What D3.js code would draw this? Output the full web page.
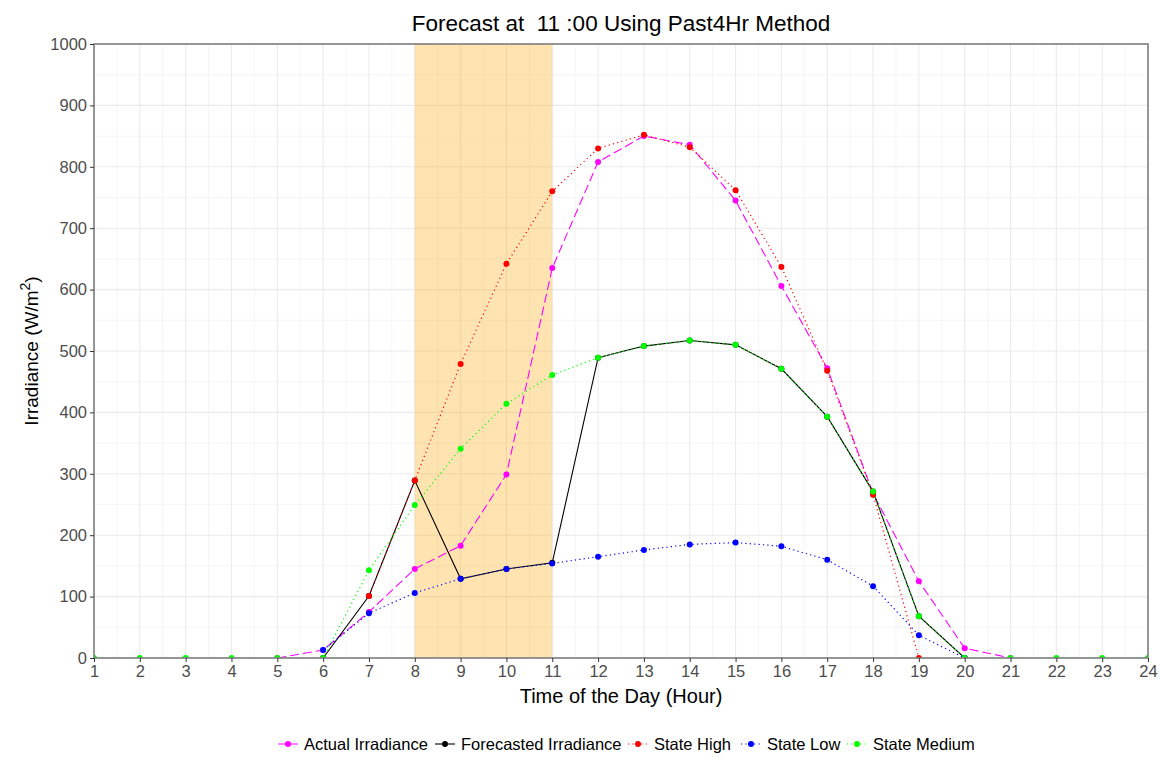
<!DOCTYPE html>
<html>
<head>
<meta charset="utf-8">
<script src="https://cdn.jsdelivr.net/npm/d3@7"></script>
<style>
  html, body { margin: 0; padding: 0; background: #fff; }
  svg { display: block; font-family: "Liberation Sans", Arial, sans-serif; }
</style>
</head>
<body>
<svg id="chart" width="1160" height="761"></svg>
<script>
// ---- Data ----
const hours = d3.range(1, 25);
const actualHours = [5,6,7,8,9,10,11,12,13,14,15,16,17,18,19,20,21];
const actualValues = [0,13,75,145,183,299,635,808,850,836,745,606,472,268,125,16,0];
const forecastHours = [6,7,8,9,10,11,12,13,14,15,16,17,18,19,20];
const forecastValues = [0,101,289,129,145,155,489,508,517,510,471,393,271,68,0];
const highHours = [7,8,9,10,11,12,13,14,15,16,17,18,19];
const highValues = [101,289,479,642,760,830,852,832,762,637,468,266,0];
const lowHours = [6,7,8,9,10,11,12,13,14,15,16,17,18,19,20];
const lowValues = [13,73,106,129,145,154,165,176,185,188,182,160,117,37,0];
const mediumHours = [1,2,3,4,5,6,7,8,9,10,11,12,13,14,15,16,17,18,19,20,21,22,23,24];
const mediumValues = [0,0,0,0,0,0,143,249,341,414,461,489,508,517,510,471,393,271,68,0,0,0,0,0];
const yTicks = [0,100,200,300,400,500,600,700,800,900,1000];
const shadeRange = [8, 11];
const titleText = "Forecast at  11 :00 Using Past4Hr Method";
const xTitle = "Time of the Day (Hour)";
const legendLabels = ["Actual Irradiance", "Forecasted Irradiance", "State High", "State Low", "State Medium"];

// ---- Layout ----
const svg = d3.select("#chart");
const L = 94, R = 1148, T = 44, B = 658;
const x = d3.scaleLinear().domain([1, 24]).range([L, R]);
const y = d3.scaleLinear().domain([0, 1000]).range([B, T]);

const defs = svg.append("defs");
defs.append("clipPath").attr("id", "clip")
  .append("rect").attr("x", L).attr("y", T).attr("width", R - L).attr("height", B - T);

svg.append("rect").attr("x", L).attr("y", T).attr("width", R - L).attr("height", B - T).attr("fill", "#fff");

// minor grid
const g = svg.append("g");
d3.range(1.5, 24, 1).forEach(v => {
  g.append("line").attr("x1", x(v)).attr("x2", x(v)).attr("y1", T).attr("y2", B)
    .attr("stroke", "#F2F2F2").attr("stroke-width", 0.8);
});
d3.range(50, 1000, 100).forEach(v => {
  g.append("line").attr("x1", L).attr("x2", R).attr("y1", y(v)).attr("y2", y(v))
    .attr("stroke", "#F2F2F2").attr("stroke-width", 0.8);
});
// major grid
hours.forEach(v => {
  g.append("line").attr("x1", x(v)).attr("x2", x(v)).attr("y1", T).attr("y2", B)
    .attr("stroke", "#EBEBEB").attr("stroke-width", 1.1);
});
yTicks.forEach(v => {
  g.append("line").attr("x1", L).attr("x2", R).attr("y1", y(v)).attr("y2", y(v))
    .attr("stroke", "#EBEBEB").attr("stroke-width", 1.1);
});

// shaded window
svg.append("rect")
  .attr("x", x(shadeRange[0])).attr("y", T)
  .attr("width", x(shadeRange[1]) - x(shadeRange[0])).attr("height", B - T)
  .attr("fill", "rgb(255,165,0)").attr("fill-opacity", 0.3);

// ---- Series ----
const series = [
  { h: actualHours, v: actualValues, color: "#FF00FF", dash: "9,4", width: 1.1 },
  { h: forecastHours, v: forecastValues, color: "#000000", dash: null, width: 1.1 },
  { h: highHours, v: highValues, color: "#FF0000", dash: "1.2,3.2", width: 1.2 },
  { h: lowHours, v: lowValues, color: "#0000FF", dash: "1.2,3.2", width: 1.2 },
  { h: mediumHours, v: mediumValues, color: "#00FF00", dash: "1.2,3.2", width: 1.2 }
];

const plot = svg.append("g").attr("clip-path", "url(#clip)");
const line = d3.line().x(d => x(d[0])).y(d => y(d[1]));
series.forEach(s => {
  const pts = s.h.map((h, i) => [h, s.v[i]]);
  plot.append("path").datum(pts)
    .attr("d", line).attr("fill", "none")
    .attr("stroke", s.color).attr("stroke-width", s.width)
    .attr("stroke-dasharray", s.dash);
  plot.selectAll(null).data(pts).enter().append("circle")
    .attr("cx", d => x(d[0])).attr("cy", d => y(d[1])).attr("r", 3)
    .attr("fill", s.color);
});

// panel border
svg.append("rect").attr("x", L).attr("y", T).attr("width", R - L).attr("height", B - T)
  .attr("fill", "none").attr("stroke", "#7F7F7F").attr("stroke-width", 1.6);

// ---- Axes ----
const xAxis = svg.append("g").attr("transform", `translate(0,${B})`)
  .call(d3.axisBottom(x).tickValues(hours).tickFormat(d3.format("d")).tickSize(4).tickPadding(3));
const yAxis = svg.append("g").attr("transform", `translate(${L},0)`)
  .call(d3.axisLeft(y).tickValues(yTicks).tickFormat(d3.format("d")).tickSize(4).tickPadding(3));
[xAxis, yAxis].forEach(a => {
  a.select(".domain").remove();
  a.selectAll(".tick line").attr("stroke", "#333").attr("stroke-width", 1);
  a.selectAll(".tick text").attr("fill", "#4D4D4D").style("font-size", "16.5px")
    .style("font-family", "\"Liberation Sans\", Arial, sans-serif");
});

// ---- Titles ----
svg.append("text").attr("x", (L + R) / 2).attr("y", 31)
  .attr("text-anchor", "middle").style("font-size", "22.5px").attr("fill", "#000")
  .style("white-space", "pre").text(titleText);

svg.append("text").attr("x", (L + R) / 2).attr("y", 703)
  .attr("text-anchor", "middle").style("font-size", "20px").attr("fill", "#000")
  .text(xTitle);

const yt = svg.append("text")
  .attr("transform", `translate(38,${(T + B) / 2}) rotate(-90)`)
  .attr("text-anchor", "middle").style("font-size", "19px").attr("fill", "#000");
yt.append("tspan").text("Irradiance (W/m");
yt.append("tspan").attr("dy", -8).style("font-size", "14px").text("2");
yt.append("tspan").attr("dy", 8).text(")");

// ---- Legend ----
const keyStarts = [278, 435, 628, 741, 847];
const leg = svg.append("g");
const legY = 744;
series.forEach((s, i) => {
  const x0 = keyStarts[i];
  leg.append("line").attr("x1", x0).attr("x2", x0 + 20).attr("y1", legY).attr("y2", legY)
    .attr("stroke", s.color).attr("stroke-width", s.width)
    .attr("stroke-dasharray", s.dash);
  leg.append("circle").attr("cx", x0 + 10).attr("cy", legY).attr("r", 3).attr("fill", s.color);
  leg.append("text").attr("x", x0 + 26).attr("y", legY + 6)
    .style("font-size", "16.5px").attr("fill", "#000").text(legendLabels[i]);
});
</script>
</body>
</html>
